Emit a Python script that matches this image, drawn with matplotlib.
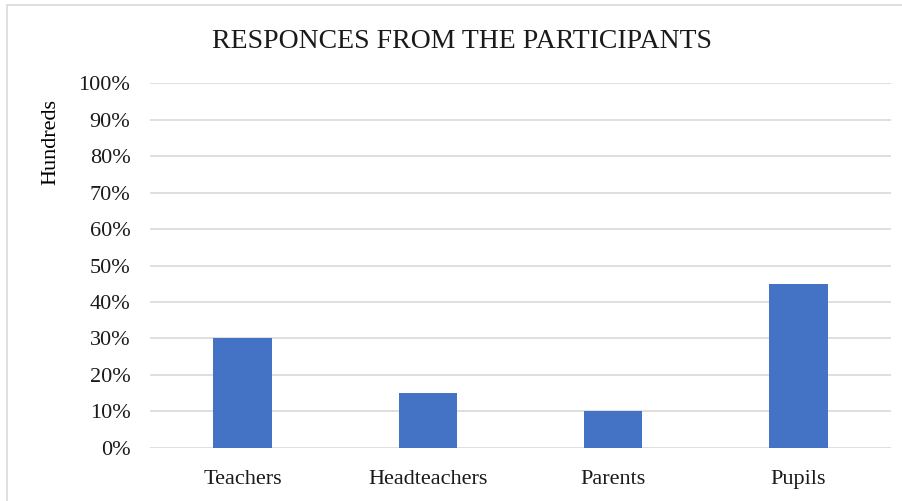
import matplotlib
matplotlib.use('Agg')
import matplotlib.pyplot as plt
from matplotlib.patches import Rectangle
from matplotlib.ticker import PercentFormatter

plt.rcParams['font.family'] = ['Liberation Serif', 'DejaVu Serif']
plt.rcParams['font.size'] = 16

categories = ['Teachers', 'Headteachers', 'Parents', 'Pupils']
values = [0.30, 0.15, 0.10, 0.45]
yticks = [0, 0.1, 0.2, 0.3, 0.4, 0.5, 0.6, 0.7, 0.8, 0.9, 1.0]

fig = plt.figure(figsize=(9.03, 5.01), dpi=100)
ax = fig.add_axes([0.166, 0.106, 0.821, 0.728])

ax.bar(categories, values, width=0.315, color='#4472C4', zorder=3)
ax.set_xlim(-0.5, len(categories) - 0.5)
ax.set_ylim(0, 1.0)
ax.set_yticks(yticks)
ax.yaxis.set_major_formatter(PercentFormatter(1.0, decimals=0))
ax.grid(axis='y', color='#D9D9D9', linewidth=1.2, zorder=0)
for s in ax.spines.values():
    s.set_visible(False)
ax.tick_params(length=0, colors='#1a1a1a')
ax.tick_params(axis='y', pad=14)
ax.tick_params(axis='x', pad=16)
ax.set_ylabel('Hundreds', fontsize=16)
ax.yaxis.set_label_coords(-0.121, 0.84)

fig.text(0.512, 0.917, 'RESPONCES FROM THE PARTICIPANTS', ha='center', va='center',
         fontsize=20, color='#1a1a1a')

# light frame around the chart
fig.patches.append(Rectangle((7 / 903, -0.05), 1.0, 1.0 - 5 / 501 + 0.05,
                             transform=fig.transFigure, fill=False,
                             edgecolor='#D9D9D9', linewidth=1.2))

fig.savefig('out.png', dpi=100)
